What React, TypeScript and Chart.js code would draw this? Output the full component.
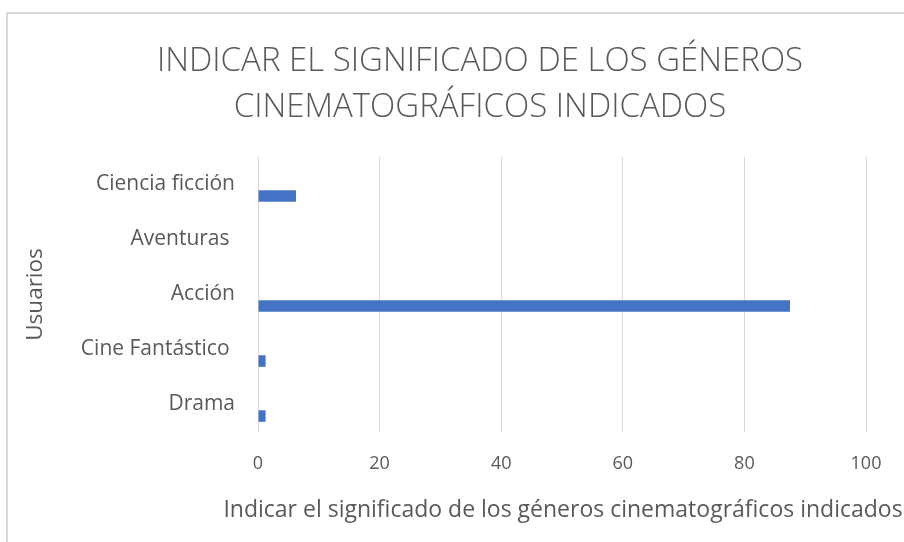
import React, { useEffect, useRef } from "react";
import { Chart, registerables } from "chart.js";

Chart.register(...registerables);

const categories = ["Ciencia ficción", "Aventuras ", "Acción", "Cine Fantástico ", "Drama"];
const emptySeries = [null, null, null, null, null];
const values = [6.25, 0, 87.5, 1.25, 1.25];
const xTicks = [0, 20, 40, 60, 80, 100];

const titleLines = ["INDICAR EL SIGNIFICADO DE LOS GÉNEROS", "CINEMATOGRÁFICOS INDICADOS"];
const xTitle = "Indicar el significado de los géneros cinematográficos indicados";
const yTitle = "Usuarios";

const FONT = "'Open Sans', 'Noto Sans', sans-serif";
const TEXT = "#595959";
const GRID = "#d9d9d9";

const frame = {
  id: "frame",
  beforeDraw(chart: any) {
    const ctx = chart.ctx;
    ctx.save();
    ctx.fillStyle = "#ffffff";
    ctx.fillRect(0, 0, chart.width, chart.height);
    ctx.fillStyle = GRID;
    ctx.fillRect(6, 12, chart.width - 6, 2);
    ctx.fillRect(6, 12, 2, chart.height - 12);
    ctx.restore();
  },
  afterDraw(chart: any) {
    const ctx = chart.ctx;
    const area = chart.chartArea;
    ctx.save();
    ctx.fillStyle = TEXT;
    ctx.textAlign = "center";
    ctx.textBaseline = "alphabetic";
    ctx.font = `300 33px ${FONT}`;
    const baselines = [71, 117];
    titleLines.forEach((line, i) => ctx.fillText(line, 480, baselines[i]));
    ctx.font = `400 23px ${FONT}`;
    ctx.textBaseline = "middle";
    ctx.fillText(xTitle, (area.left + area.right) / 2 + 1, 510);
    ctx.restore();
  },
};

export default function App() {
  const ref = useRef<HTMLCanvasElement | null>(null);
  useEffect(() => {
    if (!ref.current) return;
    const chart = new Chart(ref.current, {
      type: "bar",
      data: {
        labels: categories,
        datasets: [
          { label: "blank", data: emptySeries as any, backgroundColor: "#4472C4" },
          { label: "Usuarios", data: values, backgroundColor: "#4472C4" },
        ],
      },
      options: {
        indexAxis: "y",
        responsive: false,
        animation: false,
        maintainAspectRatio: false,
        layout: { padding: { left: 0, right: 38, top: 157, bottom: 0 } },
        datasets: { bar: { categoryPercentage: 0.84, barPercentage: 0.5 } },
        plugins: {
          legend: { display: false },
          tooltip: { enabled: false },
          title: { display: false },
        },
        scales: {
          x: {
            type: "linear",
            min: 0,
            max: 100,
            afterBuildTicks: (s: any) => {
              s.ticks = xTicks.map((v) => ({ value: v }));
            },
            afterFit: (s: any) => {
              s.height = 110;
            },
            grid: { color: GRID, lineWidth: 1, drawTicks: false },
            border: { display: false },
            ticks: { color: TEXT, font: { family: FONT, size: 18 }, padding: 21 },
            title: { display: false, text: xTitle },
          },
          y: {
            afterFit: (s: any) => {
              s.width = 258;
            },
            grid: { display: false, drawTicks: false },
            border: { display: false },
            ticks: { color: TEXT, font: { family: FONT, size: 21 }, padding: 23 },
            title: {
              display: true,
              text: yTitle,
              color: TEXT,
              font: { family: FONT, size: 22.5 },
              padding: 22,
            },
          },
        },
      },
      plugins: [frame],
    });
    return () => chart.destroy();
  }, []);
  return (
    <div style={{ position: "fixed", left: 0, top: 0, width: 904, height: 542, background: "#fff" }}>
      <canvas ref={ref} width={904} height={542} style={{ display: "block" }} />
    </div>
  );
}
